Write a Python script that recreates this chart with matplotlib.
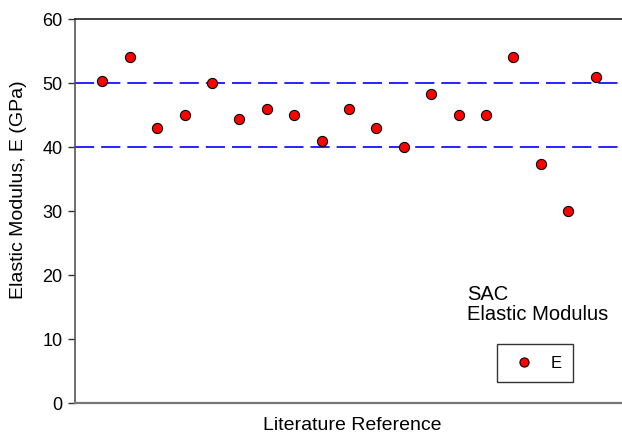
import matplotlib
matplotlib.use("Agg")
import matplotlib.pyplot as plt

plt.rcParams['font.family'] = ['Liberation Sans', 'DejaVu Sans']

# Elastic modulus values from each literature reference
reference_index = list(range(1, 20))
modulus_gpa = [50.3, 54.0, 43.0, 45.0, 50.0, 44.4, 46.0, 45.0, 41.0, 46.0,
               43.0, 40.0, 48.3, 45.0, 45.0, 54.0, 37.4, 30.0, 51.0]
band_levels = [40, 50]
y_ticks = [0, 10, 20, 30, 40, 50, 60]

W, H = 622, 432
fig = plt.figure(figsize=(W / 100, H / 100), dpi=100)
ax = fig.add_axes([75 / W, 1 - 403 / H, 548 / W, 384 / H])

for level in band_levels:
    ax.axhline(level, color='#0000ff', linewidth=1.2, dashes=(11.5, 4.2),
               zorder=1)

ax.plot(reference_index, modulus_gpa, linestyle='none', marker='o',
        markersize=7.3, markerfacecolor='#ff0000', markeredgecolor='black',
        markeredgewidth=0.8, label='E', zorder=3)

ax.set_xlim(0, 20)
ax.set_ylim(0, 60)
ax.set_yticks(y_ticks)
ax.set_xticks([])
ax.tick_params(axis='y', direction='out', length=5, width=1, labelsize=13,
               pad=4, color='#333333')

ax.spines['left'].set_color('#555555')
ax.spines['bottom'].set_color('#777777')
ax.spines['top'].set_color('#222222')
ax.spines['right'].set_visible(False)
ax.spines['left'].set_linewidth(1.2)
ax.spines['top'].set_linewidth(1.2)
ax.spines['bottom'].set_linewidth(1.6)

# axis titles positioned in figure pixels
fig.text(19 / W, 1 - 190 / H, 'Elastic Modulus, E (GPa)', rotation=90,
         fontsize=14, ha='center', va='center')
fig.text(352 / W, 1 - 425 / H, 'Literature Reference', fontsize=14,
         ha='center', va='center')

fig.text(467 / W, 1 - 300 / H, 'SAC', fontsize=14.5, ha='left',
         va='baseline')
fig.text(467 / W, 1 - 320 / H, 'Elastic Modulus', fontsize=14.5, ha='left',
         va='baseline')

leg = ax.legend(loc='upper left', bbox_to_anchor=(497 / W, 1 - 344 / H),
                bbox_transform=fig.transFigure, frameon=True, fancybox=False,
                edgecolor='black', fontsize=12, handlelength=1.8,
                handletextpad=0.7, borderpad=0.7, borderaxespad=0,
                markerscale=0.9)
leg.get_frame().set_linewidth(1.0)

fig.savefig('out.png', dpi=100)
